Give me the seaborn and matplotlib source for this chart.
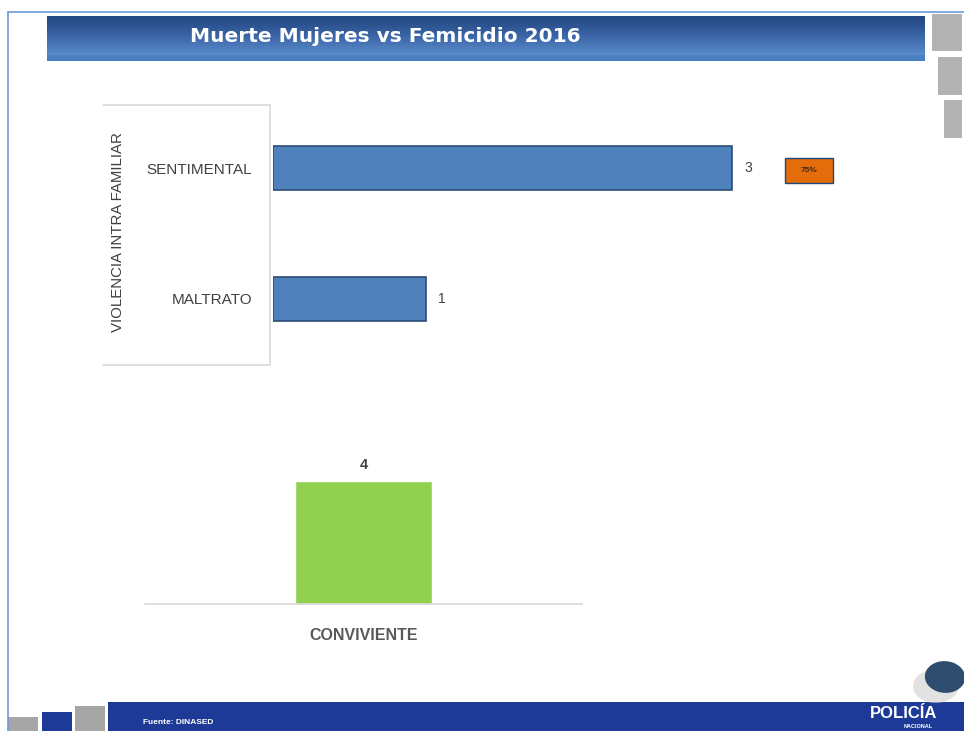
import numpy as np
import pandas as pd
import seaborn as sns
import matplotlib.pyplot as plt
from matplotlib.patches import Rectangle, Ellipse
from matplotlib.colors import LinearSegmentedColormap

# data
motivos = ['SENTIMENTAL', 'MALTRATO']
casos_motivo = [3, 1]
grupo_motivo = 'VIOLENCIA INTRA FAMILIAR'
porcentaje = '75%'
relacion = ['CONVIVIENTE']
casos_relacion = [4]

titulo = 'Muerte Mujeres vs Femicidio 2016'
fuente = 'Fuente: DINASED'

W, H = 964, 731
sns.set_theme(style='white')
plt.rcParams['font.family'] = ['Liberation Sans', 'DejaVu Sans']

fig = plt.figure(figsize=(W / 100, H / 100), dpi=100)
fig.patch.set_facecolor('white')


def box(x0, y0, x1, y1):
    # pixel box (top-left origin) -> figure fraction rect
    return [x0 / W, 1 - y1 / H, (x1 - x0) / W, (y1 - y0) / H]


def add_rect(x0, y0, x1, y1, color, **kw):
    r = Rectangle((x0 / W, 1 - y1 / H), (x1 - x0) / W, (y1 - y0) / H,
                  transform=fig.transFigure, facecolor=color, edgecolor='none', **kw)
    fig.patches.append(r)
    return r


def add_line(xs, ys, color, lw=1.2):
    fig.lines.append(plt.Line2D([x / W for x in xs], [1 - y / H for y in ys],
                                transform=fig.transFigure, color=color, lw=lw))


# outer slide border
add_line([8, W], [12, 12], '#6C9BD6')
add_line([8, 8], [12, H], '#6C9BD6')

# title bar with gradient
tax = fig.add_axes(box(47, 16, 925, 55))
grad = np.linspace(0, 1, 50).reshape(-1, 1)
cm_title = LinearSegmentedColormap.from_list('t', ['#22467F', '#3A64A6', '#5A8BCB'])
tax.imshow(grad, aspect='auto', cmap=cm_title, extent=[0, 1, 0, 1])
tax.set_axis_off()
add_rect(47, 55, 925, 61, '#4B7FC3')
fig.text(385 / W, 1 - 37 / H, titulo, color='white', fontsize=14.5, fontweight='bold',
         ha='center', va='center', family=['Liberation Sans Narrow', 'DejaVu Sans'])

# grey blocks on the right
add_rect(932, 14, 962, 51, '#B3B3B3')
add_rect(938, 57, 962, 95, '#B3B3B3')
add_rect(944, 100, 962, 138, '#B3B3B3')

# label panel for the horizontal chart (top, right, bottom edges)
add_line([103, 270, 270, 103], [105, 105, 365, 365], '#D9D9D9')
fig.text(118 / W, 1 - 232 / H, grupo_motivo, rotation=90, ha='center', va='center',
         fontsize=10.8, color='#404040')

# horizontal bars
ax1 = fig.add_axes(box(273, 105, 900, 365))
ax1.set_zorder(3)
df1 = pd.DataFrame({'motivo': motivos, 'casos': casos_motivo})
sns.barplot(data=df1, x='casos', y='motivo', orient='h', color='#4F81BD', saturation=1,
            width=0.336, errorbar=None, edgecolor='#2C4D75', linewidth=1.2, ax=ax1)
px_per_unit = 153
ax1.set_xlim(0, (900 - 273) / px_per_unit)
ax1.set_ylim(1.504, -0.481)
ax1.set_xlabel('')
ax1.set_ylabel('')
ax1.set_xticks([])
ax1.tick_params(axis='y', length=0, pad=15, labelsize=11, labelcolor='#404040')
sns.despine(ax=ax1, left=True, bottom=True)
ax1.patch.set_alpha(0)
for i, v in enumerate(casos_motivo):
    ax1.text(v + 12 / px_per_unit, i, str(v), va='center', ha='left', fontsize=10, color='#404040')
bx0 = (785 - 273) / px_per_unit
bx1 = (833 - 273) / px_per_unit
ax1.add_patch(Rectangle((bx0, -0.076), bx1 - bx0, 0.19, facecolor='#E46C0A',
                        edgecolor='#1F497D', lw=1))
ax1.text((bx0 + bx1) / 2, 0.02, porcentaje, ha='center', va='center', fontsize=6,
         fontweight='bold', color='#3A2A1A')

# vertical bar
ax2 = fig.add_axes(box(145, 450, 582, 604))
df2 = pd.DataFrame({'relacion': relacion, 'casos': casos_relacion})
sns.barplot(data=df2, x='relacion', y='casos', color='#92D050', saturation=1,
            width=1.0, errorbar=None, ax=ax2)
ax2.set_xlim(-1.6, 1.6)
ax2.set_ylim(0, 5.0)
ax2.set_xlabel('')
ax2.set_ylabel('')
ax2.set_yticks([])
sns.despine(ax=ax2, left=True)
ax2.spines['bottom'].set_color('#D9D9D9')
ax2.spines['bottom'].set_linewidth(1.2)
ax2.tick_params(axis='x', length=0, pad=17, labelsize=11.5, labelcolor='#595959')
for lab in ax2.get_xticklabels():
    lab.set_fontweight('bold')
for i, v in enumerate(casos_relacion):
    ax2.text(i, v + 0.3, str(v), ha='center', va='bottom', fontsize=10.5, fontweight='bold',
             color='#404040')
ax2.patch.set_alpha(0)

# footer
add_rect(108, 702, 964, 731, '#1D3A97')
add_rect(8, 717, 38, 731, '#A6A6A6')
add_rect(42, 712, 72, 731, '#1D3A97')
add_rect(75, 706, 105, 731, '#A6A6A6')
fig.text(143 / W, 1 - 722 / H, fuente, color='white', fontsize=6, fontweight='bold',
         ha='left', va='center')
fig.text(904 / W, 1 - 714 / H, 'POLICÍA', color='white', fontsize=12, fontweight='bold',
         ha='center', va='center')
fig.text(918 / W, 1 - 727 / H, 'NACIONAL', color='white', fontsize=4, fontweight='bold',
         ha='center', va='center')
shadow = Ellipse((936 / W, 1 - 686 / H), 46 / W, 34 / H, angle=20, transform=fig.transFigure,
                 facecolor='#D0D0D0', edgecolor='none', alpha=0.6)
fig.patches.append(shadow)
logo = Ellipse((945 / W, 1 - 677 / H), 40 / W, 32 / H, angle=20, transform=fig.transFigure,
               facecolor='#2E4D6E', edgecolor='none')
fig.patches.append(logo)

fig.savefig('out.png', dpi=100)
